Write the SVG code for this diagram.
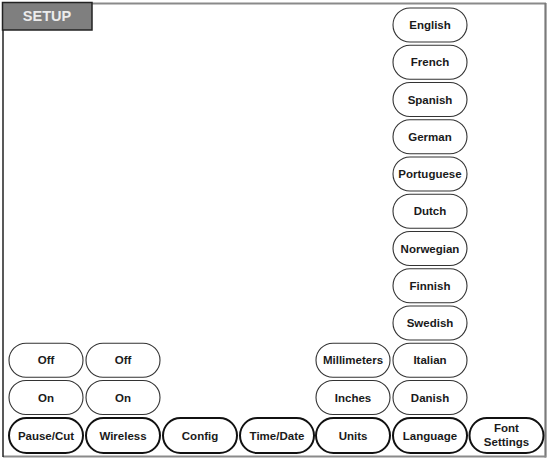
<svg xmlns="http://www.w3.org/2000/svg" width="549" height="461" viewBox="0 0 549 461">
<style>
.opt{fill:#fff;stroke:#333;stroke-width:1.1}
.tab{fill:#fff;stroke:#111;stroke-width:2}
text{font-family:"Liberation Sans",Arial,sans-serif;font-weight:bold;font-size:11.5px;fill:#1a1a1a;text-anchor:middle}
.title{font-size:14.5px;fill:#ececec}
</style>
<rect x="0" y="0" width="549" height="461" fill="#fff"/>
<g id="frame">
<line x1="3" y1="3.5" x2="546" y2="3.5" stroke="#8a8a8a" stroke-width="2"/>
<line x1="545.5" y1="3" x2="545.5" y2="457.5" stroke="#7a7a7a" stroke-width="2.2"/>
<line x1="3" y1="456.5" x2="546" y2="456.5" stroke="#8a8a8a" stroke-width="2.2"/>
<line x1="3" y1="3" x2="3" y2="457" stroke="#222" stroke-width="1.5"/>
</g>
<g id="setup">
<rect x="2.5" y="2.5" width="89.5" height="27.5" fill="#7f7f7f" stroke="#222" stroke-width="1.5"/>
<text class="title" x="47" y="20.5">SETUP</text>
</g>
<g id="connectors"></g>
<g id="lang-english"><rect class="opt" x="393" y="8" width="74" height="34" rx="17"/><text x="430" y="29">English</text></g>
<g id="lang-french"><rect class="opt" x="393" y="45.25" width="74" height="34" rx="17"/><text x="430" y="66.25">French</text></g>
<g id="lang-spanish"><rect class="opt" x="393" y="82.5" width="74" height="34" rx="17"/><text x="430" y="103.5">Spanish</text></g>
<g id="lang-german"><rect class="opt" x="393" y="119.75" width="74" height="34" rx="17"/><text x="430" y="140.75">German</text></g>
<g id="lang-portuguese"><rect class="opt" x="393" y="157" width="74" height="34" rx="17"/><text x="430" y="178">Portuguese</text></g>
<g id="lang-dutch"><rect class="opt" x="393" y="194.25" width="74" height="34" rx="17"/><text x="430" y="215.25">Dutch</text></g>
<g id="lang-norwegian"><rect class="opt" x="393" y="231.5" width="74" height="34" rx="17"/><text x="430" y="252.5">Norwegian</text></g>
<g id="lang-finnish"><rect class="opt" x="393" y="268.75" width="74" height="34" rx="17"/><text x="430" y="289.75">Finnish</text></g>
<g id="lang-swedish"><rect class="opt" x="393" y="306" width="74" height="34" rx="17"/><text x="430" y="327">Swedish</text></g>
<g id="lang-italian"><rect class="opt" x="393" y="343.25" width="74" height="34" rx="17"/><text x="430" y="364.25">Italian</text></g>
<g id="lang-danish"><rect class="opt" x="393" y="380.5" width="74" height="34" rx="17"/><text x="430" y="401.5">Danish</text></g>
<g id="units-mm"><rect class="opt" x="316" y="343.25" width="74" height="34" rx="17"/><text x="353" y="364.25">Millimeters</text></g>
<g id="units-in"><rect class="opt" x="316" y="380.5" width="74" height="34" rx="17"/><text x="353" y="401.5">Inches</text></g>
<g id="pause-off"><rect class="opt" x="9" y="343.25" width="74" height="34" rx="17"/><text x="46" y="364.25">Off</text></g>
<g id="pause-on"><rect class="opt" x="9" y="380.5" width="74" height="34" rx="17"/><text x="46" y="401.5">On</text></g>
<g id="wireless-off"><rect class="opt" x="86" y="343.25" width="74" height="34" rx="17"/><text x="123" y="364.25">Off</text></g>
<g id="wireless-on"><rect class="opt" x="86" y="380.5" width="74" height="34" rx="17"/><text x="123" y="401.5">On</text></g>
<g id="btn-pausecut"><rect class="tab" x="9" y="418" width="74" height="35" rx="17.5"/><text x="46" y="439.5">Pause/Cut</text></g>
<g id="btn-wireless"><rect class="tab" x="86" y="418" width="74" height="35" rx="17.5"/><text x="123" y="439.5">Wireless</text></g>
<g id="btn-config"><rect class="tab" x="163" y="418" width="74" height="35" rx="17.5"/><text x="200" y="439.5">Config</text></g>
<g id="btn-timedate"><rect class="tab" x="240" y="418" width="74" height="35" rx="17.5"/><text x="277" y="439.5">Time/Date</text></g>
<g id="btn-units"><rect class="tab" x="316" y="418" width="74" height="35" rx="17.5"/><text x="353" y="439.5">Units</text></g>
<g id="btn-language"><rect class="tab" x="393" y="418" width="74" height="35" rx="17.5"/><text x="430" y="439.5">Language</text></g>
<g id="btn-font"><rect class="tab" x="469.5" y="418" width="74" height="35" rx="17.5"/><text x="506.5" y="432">Font</text><text x="506.5" y="446">Settings</text></g>
</svg>
